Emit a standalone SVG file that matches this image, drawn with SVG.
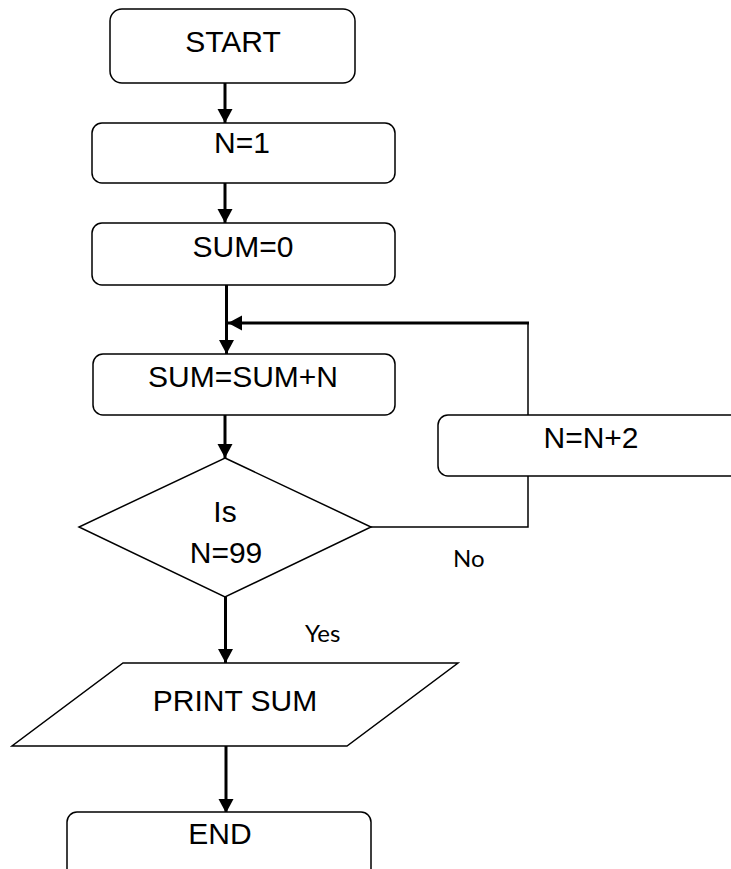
<svg xmlns="http://www.w3.org/2000/svg" width="731" height="869" viewBox="0 0 731 869">
<style>
.box{fill:#fff;stroke:#000;stroke-width:1.5}
.t{font-family:"Liberation Sans",Arial,sans-serif;font-size:30px;fill:#000;text-anchor:middle}
.lbl{font-family:Lato,"Open Sans",sans-serif;font-size:24px;fill:#000}
.arr{stroke:#000;stroke-width:3;fill:none}
.thin{stroke:#000;stroke-width:1.5;fill:none}
</style>
<defs>
<marker id="ah" markerUnits="userSpaceOnUse" markerWidth="15" markerHeight="16" refX="14" refY="8" orient="auto" viewBox="0 0 15 16">
<path d="M0,0.5 L14,8 L0,15.5 z" fill="#000"/>
</marker>
</defs>
<rect width="731" height="869" fill="#fff"/>
<g id="connectors">
<line class="arr" x1="225" y1="83" x2="225" y2="123" marker-end="url(#ah)"/>
<line class="arr" x1="225" y1="183" x2="225" y2="223" marker-end="url(#ah)"/>
<line class="arr" x1="226.5" y1="285" x2="226.5" y2="354" marker-end="url(#ah)"/>
<line class="arr" x1="529" y1="323" x2="228" y2="323" marker-end="url(#ah)"/>
<line class="thin" x1="528" y1="323" x2="528" y2="415"/>
<polyline class="thin" points="371,527 528,527 528,476"/>
<line class="arr" x1="225" y1="415" x2="225" y2="458" marker-end="url(#ah)"/>
<line class="arr" x1="225.5" y1="597" x2="225.5" y2="663" marker-end="url(#ah)"/>
<line class="arr" x1="226" y1="746" x2="226" y2="813" marker-end="url(#ah)"/>
<text class="lbl" x="453" y="567">No</text>
<text class="lbl" x="305" y="642">Yes</text>
</g>
<g id="start">
<rect class="box" x="110" y="9" width="245" height="74" rx="12"/>
<text class="t" x="233" y="52">START</text>
</g>
<g id="n1">
<rect class="box" x="92" y="123" width="303" height="60" rx="10"/>
<text class="t" x="242" y="153">N=1</text>
</g>
<g id="sum0">
<rect class="box" x="92" y="223" width="303" height="62" rx="10"/>
<text class="t" x="243" y="257">SUM=0</text>
</g>
<g id="sumn">
<rect class="box" x="93" y="354" width="302" height="61" rx="10"/>
<text class="t" x="243" y="387">SUM=SUM+N</text>
</g>
<g id="nn2">
<rect class="box" x="438" y="415" width="320" height="61" rx="10"/>
<text class="t" x="591" y="448">N=N+2</text>
</g>
<g id="decision">
<polygon class="box" points="225,458 371,527 225,597 79,527"/>
<text class="t" x="225" y="522">Is</text>
<text class="t" x="226" y="563">N=99</text>
</g>
<g id="print">
<polygon class="box" points="123,663 458,663 347,746 12,746"/>
<text class="t" x="235" y="711">PRINT SUM</text>
</g>
<g id="end">
<rect class="box" x="67" y="812" width="304" height="80" rx="10"/>
<text class="t" x="220" y="844">END</text>
</g>
</svg>
